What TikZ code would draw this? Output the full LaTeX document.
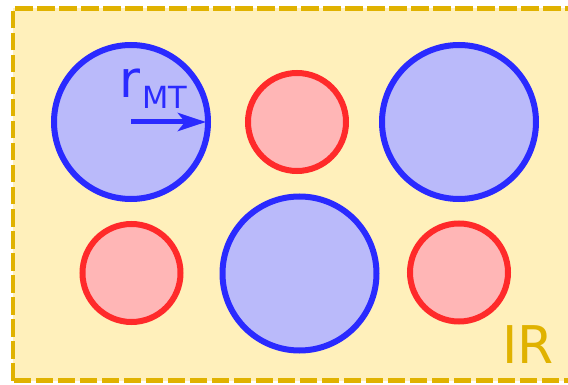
\documentclass[tikz,border=0pt]{standalone}
\usepackage{fontspec}
\setmainfont{DejaVu Sans}
\usetikzlibrary{arrows.meta}
\definecolor{irgold}{RGB}{224,178,0}
\definecolor{irfill}{RGB}{255,240,187}
\definecolor{mtblue}{RGB}{42,42,255}
\definecolor{mtfill}{RGB}{186,186,250}
\definecolor{kred}{RGB}{255,42,42}
\definecolor{kfill}{RGB}{255,182,182}
\tikzset{
  mt/.style={circle, draw=mtblue, fill=mtfill, line width=6pt,
    minimum size=154pt, inner sep=0pt, outer sep=0pt},
  kin/.style={circle, draw=kred, fill=kfill, line width=6pt,
    minimum size=98pt, inner sep=0pt, outer sep=0pt},
  region/.style={draw=irgold, fill=irfill, line width=4.5pt,
    dash pattern=on 17.5pt off 4.5pt},
  lbl/.style={inner sep=0pt, anchor=base west},
}
\begin{document}
\begin{tikzpicture}[x=1pt, y=-1pt]
  \useasboundingbox (0,0) rectangle (568,385);
  \clip (0,0) rectangle (568,385);
  % interaction region (continues past the right edge)
  \draw[region] (13,380.5) -- (13,8.5) -- (640,8.5) -- (640,380.5) -- cycle;
  % large circles
  \node[mt] (mt1) at (131,122) {};
  \node[mt] (mt2) at (459,122) {};
  \node[mt] (mt3) at (299.5,273.5) {};
  % small circles
  \node[kin] (k1) at (297,122) {};
  \node[kin] (k2) at (131.5,273) {};
  \node[kin] (k3) at (459,272.5) {};
  % radius marker
  \draw[mtblue, line width=5pt, -{Stealth[length=28pt, width=18pt, inset=7pt]},
        shorten >=2pt] (mt1.center) -- (mt1.east);
  \node[lbl, text=mtblue, font=\fontsize{51}{51}\selectfont] (rlab) at (119,98) {r};
  \node[lbl, text=mtblue, font=\fontsize{30.5}{30.5}\selectfont] (mtlab) at (142,108.5) {MT};
  % region label
  \node[lbl, text=irgold, font=\fontsize{52}{52}\selectfont] (irlab) at (502,363) {IR};
\end{tikzpicture}
\end{document}
